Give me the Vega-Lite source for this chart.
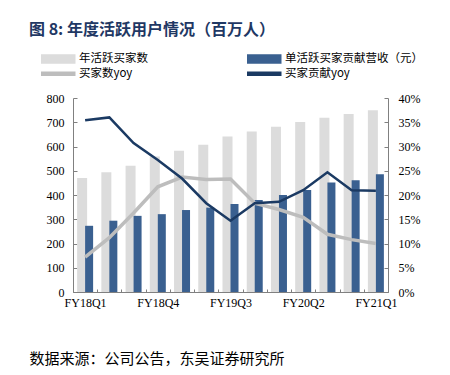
{
  "$schema": "https://vega.github.io/schema/vega-lite/v6.json",
  "autosize": {"type": "none"},
  "width": 315,
  "height": 194,
  "padding": {"left": 73, "top": 98, "right": 62, "bottom": 83},
  "background": "white",
  "title": {
    "text": "图 8:  年度活跃用户情况（百万人）",
    "anchor": "start",
    "frame": "group",
    "dx": -44,
    "offset": 15,
    "font": "Noto Sans CJK SC",
    "fontSize": 16,
    "fontWeight": "bold",
    "color": "#1f3864"
  },
  "data": {
    "values": [
      {"q": "FY18Q1", "buyers": 470, "rev": 273, "byoy": 0.072, "ryoy": 0.354},
      {"q": "FY18Q2", "buyers": 494, "rev": 294, "byoy": 0.112, "ryoy": 0.360},
      {"q": "FY18Q3", "buyers": 521, "rev": 314, "byoy": 0.163, "ryoy": 0.307},
      {"q": "FY18Q4", "buyers": 559, "rev": 321, "byoy": 0.217, "ryoy": 0.272},
      {"q": "FY19Q1", "buyers": 582, "rev": 338, "byoy": 0.237, "ryoy": 0.234},
      {"q": "FY19Q2", "buyers": 607, "rev": 348, "byoy": 0.232, "ryoy": 0.183},
      {"q": "FY19Q3", "buyers": 641, "rev": 363, "byoy": 0.233, "ryoy": 0.147},
      {"q": "FY19Q4", "buyers": 662, "rev": 379, "byoy": 0.183, "ryoy": 0.183},
      {"q": "FY20Q1", "buyers": 681, "rev": 400, "byoy": 0.170, "ryoy": 0.186},
      {"q": "FY20Q2", "buyers": 701, "rev": 421, "byoy": 0.154, "ryoy": 0.210},
      {"q": "FY20Q3", "buyers": 719, "rev": 452, "byoy": 0.119, "ryoy": 0.247},
      {"q": "FY20Q4", "buyers": 734, "rev": 461, "byoy": 0.108, "ryoy": 0.210},
      {"q": "FY21Q1", "buyers": 749, "rev": 486, "byoy": 0.100, "ryoy": 0.209}
    ]
  },
  "encoding": {
    "x": {
      "field": "q",
      "type": "ordinal",
      "sort": null,
      "scale": {"paddingInner": 0, "paddingOuter": 0},
      "axis": {
        "title": "数据来源：公司公告，东吴证券研究所",
        "titleFont": "Noto Sans CJK SC",
        "titleFontSize": 15,
        "titleFontWeight": "normal",
        "titleColor": "#000000",
        "titleAnchor": "start",
        "titleAlign": "left",
        "titleBaseline": "middle",
        "titleX": -44,
        "titleY": 66,
        "labelAngle": 0,
        "labelFont": "Liberation Serif",
        "labelFontSize": 12,
        "labelColor": "#000000",
        "labelPadding": 8,
        "labelOverlap": false,
        "labelExpr": "indexof(['FY18Q1','FY18Q4','FY19Q3','FY20Q2','FY21Q1'], datum.value) >= 0 ? datum.value : ''",
        "tickBand": "extent",
        "tickSize": -3,
        "tickColor": "#808080",
        "domainColor": "#808080",
        "grid": false
      }
    }
  },
  "layer": [
    {
      "layer": [
        {
          "mark": {"type": "bar", "width": 10, "xOffset": -3},
          "encoding": {
            "y": {
              "field": "buyers",
              "type": "quantitative",
              "scale": {"domain": [0, 800]},
              "axis": {
                "title": null,
                "orient": "left",
                "values": [0, 100, 200, 300, 400, 500, 600, 700, 800],
                "labelOverlap": false,
                "labelFont": "Liberation Serif",
                "labelFontSize": 12,
                "labelColor": "#000000",
                "tickSize": -4,
                "labelPadding": 13,
                "tickColor": "#808080",
                "domainColor": "#808080",
                "grid": false
              }
            },
            "color": {
              "datum": "年活跃买家数",
              "legend": {
                "encode": {
                  "symbols": {
                    "update": {
                      "shape": {"signal": "indexof(['年活跃买家数','单活跃买家贡献营收（元）'], datum.value) >= 0 ? 'M-4.125,-1L4.125,-1L4.125,1L-4.125,1Z' : 'M-4.125,-0.375L4.125,-0.375L4.125,0.375L-4.125,0.375Z'"},
                      "fill": {"scale": "color", "field": "value"},
                      "stroke": {"value": "transparent"},
                      "opacity": {"value": 1},
                      "fillOpacity": {"value": 1}
                    }
                  }
                }
              }
            }
          }
        },
        {
          "mark": {"type": "bar", "width": 8, "xOffset": 4},
          "encoding": {
            "y": {
              "field": "rev",
              "type": "quantitative",
              "scale": {"domain": [0, 800]},
              "axis": {
                "title": null,
                "orient": "left",
                "values": [0, 100, 200, 300, 400, 500, 600, 700, 800],
                "labelOverlap": false,
                "labelFont": "Liberation Serif",
                "labelFontSize": 12,
                "labelColor": "#000000",
                "tickSize": -4,
                "labelPadding": 13,
                "tickColor": "#808080",
                "domainColor": "#808080",
                "grid": false
              }
            },
            "color": {"datum": "单活跃买家贡献营收（元）"}
          }
        }
      ]
    },
    {
      "layer": [
        {
          "mark": {"type": "line", "strokeWidth": 3.5},
          "encoding": {
            "y": {
              "field": "byoy",
              "type": "quantitative",
              "scale": {"domain": [0, 0.4]},
              "axis": {
                "title": null,
                "orient": "right",
                "format": ".0%",
                "values": [0, 0.05, 0.1, 0.15, 0.2, 0.25, 0.3, 0.35, 0.4],
                "labelOverlap": false,
                "labelFont": "Liberation Serif",
                "labelFontSize": 12,
                "labelColor": "#000000",
                "tickSize": -4,
                "labelPadding": 14,
                "tickColor": "#808080",
                "domainColor": "#808080",
                "grid": false
              }
            },
            "color": {"datum": "买家数yoy"}
          }
        },
        {
          "mark": {"type": "line", "strokeWidth": 2.5},
          "encoding": {
            "y": {
              "field": "ryoy",
              "type": "quantitative",
              "scale": {"domain": [0, 0.4]},
              "axis": {
                "title": null,
                "orient": "right",
                "format": ".0%",
                "values": [0, 0.05, 0.1, 0.15, 0.2, 0.25, 0.3, 0.35, 0.4],
                "labelOverlap": false,
                "labelFont": "Liberation Serif",
                "labelFontSize": 12,
                "labelColor": "#000000",
                "tickSize": -4,
                "labelPadding": 14,
                "tickColor": "#808080",
                "domainColor": "#808080",
                "grid": false
              }
            },
            "color": {"datum": "买家贡献yoy"}
          }
        }
      ]
    }
  ],
  "resolve": {"scale": {"y": "independent"}},
  "config": {
    "view": {"stroke": null},
    "range": {
      "category": ["#dcdcdc", "#3a6090", "#bdbdbd", "#1b3a63"]
    },
    "legend": {
      "orient": "none",
      "legendX": -20.5,
      "legendY": -45,
      "direction": "horizontal",
      "columns": 2,
      "title": null,
      "labelFont": "Noto Sans CJK SC",
      "labelFontSize": 11.5,
      "labelColor": "#000000",
      "labelOffset": 15,
      "symbolSize": 64,
      "columnPadding": 96,
      "rowPadding": 1
    }
  }
}
